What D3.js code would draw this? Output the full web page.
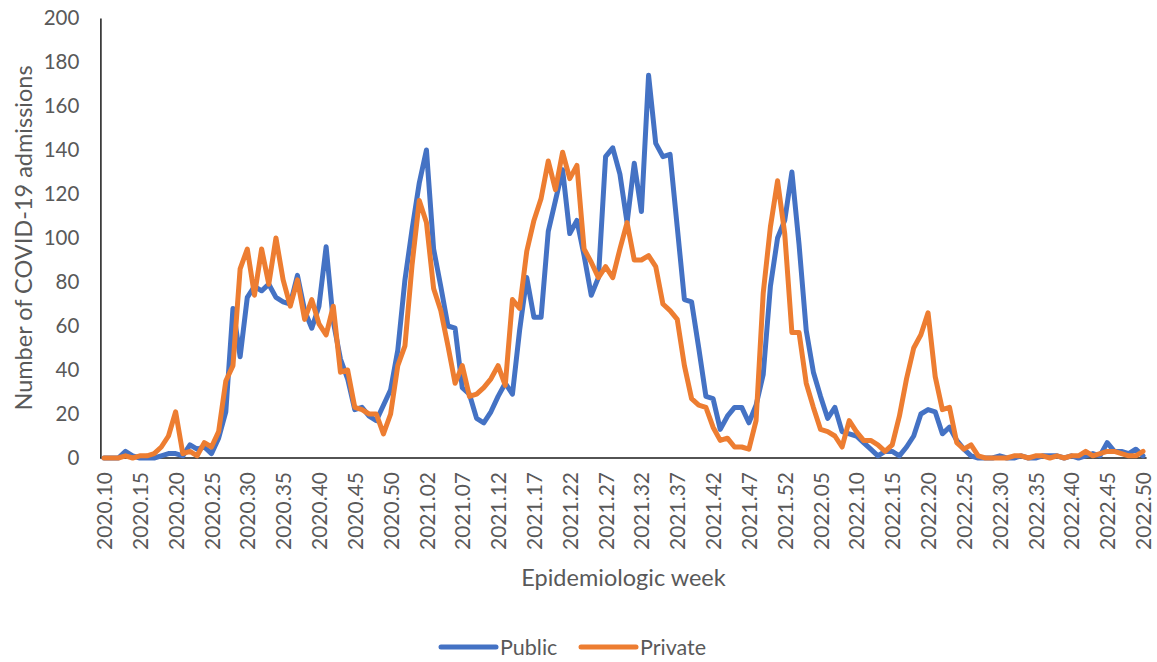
<!DOCTYPE html>
<html>
<head>
<meta charset="utf-8">
<script src="https://cdn.jsdelivr.net/npm/d3@7"></script>
<style>
  html, body { margin: 0; padding: 0; background: #ffffff; }
  svg { display: block; }
  text { font-family: Lato, "Open Sans", sans-serif; fill: #595959; }
</style>
</head>
<body>
<svg id="chart" width="1157" height="662"></svg>
<script>
// Epidemiologic weeks: 2020.10-2020.53, 2021.01-2021.52, 2022.01-2022.50
const weekRanges = [
  { year: 2020, first: 10, last: 53 },
  { year: 2021, first: 1, last: 52 },
  { year: 2022, first: 1, last: 50 }
];
const categories = [];
weekRanges.forEach(r => {
  for (let w = r.first; w <= r.last; w++) {
    categories.push(r.year + "." + String(w).padStart(2, "0"));
  }
});

// Weekly COVID-19 admissions, public hospitals
const publicAdmissions = [
  0, 0, 0, 3, 1, 0, 0, 0, 1, 2,
  2, 1, 6, 4, 5, 2, 9, 21, 68, 46,
  73, 78, 76, 79, 73, 71, 70, 83, 67, 59,
  69, 96, 62, 45, 36, 22, 23, 19, 17, 24,
  31, 49, 81, 104, 125, 140, 95, 78, 60, 59,
  32, 29, 18, 16, 21, 28, 34, 29, 58, 82,
  64, 64, 103, 117, 131, 102, 108, 92, 74, 82,
  137, 141, 129, 107, 134, 112, 174, 143, 137, 138,
  105, 72, 71, 50, 28, 27, 13, 19, 23, 23,
  16, 24, 38, 78, 100, 108, 130, 97, 58, 39,
  28, 18, 23, 12, 11, 10, 7, 4, 1, 3,
  3, 1, 5, 10, 20, 22, 21, 11, 14, 8,
  4, 1, 0, 0, 0, 1, 0, 0, 1, 0,
  0, 1, 1, 1, 0, 1, 0, 1, 2, 1,
  7, 3, 3, 2, 4, 1
];

// Weekly COVID-19 admissions, private hospitals
const privateAdmissions = [
  0, 0, 0, 1, 0, 1, 1, 2, 5, 10,
  21, 2, 3, 1, 7, 5, 12, 35, 42, 86,
  95, 74, 95, 79, 100, 81, 69, 81, 63, 72,
  61, 56, 69, 39, 40, 23, 22, 20, 20, 11,
  20, 42, 51, 88, 117, 107, 77, 67, 51, 34,
  42, 28, 29, 32, 36, 42, 33, 72, 68, 94,
  108, 118, 135, 122, 139, 127, 133, 95, 89, 82,
  87, 82, 95, 107, 90, 90, 92, 87, 70, 67,
  63, 42, 27, 24, 23, 14, 8, 9, 5, 5,
  4, 17, 75, 105, 126, 102, 57, 57, 34, 23,
  13, 12, 10, 5, 17, 12, 8, 8, 6, 3,
  6, 19, 36, 50, 56, 66, 37, 22, 23, 7,
  4, 6, 1, 0, 0, 0, 0, 1, 1, 0,
  1, 1, 0, 1, 0, 1, 1, 3, 1, 2,
  3, 3, 2, 1, 1, 3
];

const xTickLabels = [
  "2020.10", "2020.15", "2020.20", "2020.25", "2020.30", "2020.35", "2020.40", "2020.45", "2020.50",
  "2021.02", "2021.07", "2021.12", "2021.17", "2021.22", "2021.27", "2021.32", "2021.37", "2021.42", "2021.47", "2021.52",
  "2022.05", "2022.10", "2022.15", "2022.20", "2022.25", "2022.30", "2022.35", "2022.40", "2022.45", "2022.50"
];
const yTicks = [0, 20, 40, 60, 80, 100, 120, 140, 160, 180, 200];

const series = [
  { name: "Public", values: publicAdmissions, color: "#4472C4" },
  { name: "Private", values: privateAdmissions, color: "#ED7D31" }
];

const svg = d3.select("#chart");
const plot = { left: 100.4, right: 1146.6, top: 18, bottom: 458 };

const x = d3.scalePoint()
  .domain(categories)
  .range([plot.left, plot.right])
  .padding(0.5);

const y = d3.scaleLinear()
  .domain([0, 200])
  .range([plot.bottom, plot.top]);

// Value axis
const yAxis = svg.append("g")
  .attr("transform", `translate(${plot.left},0)`)
  .call(d3.axisLeft(y).tickValues(yTicks).tickSize(0).tickPadding(21));
yAxis.select(".domain").attr("stroke", "#1a1a1a").attr("stroke-width", 1.5);
yAxis.selectAll("text")
  .style("font-size", "20.5px")
  .attr("fill", "#595959");

// Category axis
const xAxis = svg.append("g")
  .attr("transform", `translate(0,${plot.bottom})`)
  .call(d3.axisBottom(x).tickValues(xTickLabels).tickSize(0).tickSizeOuter(0));
xAxis.select(".domain")
  .attr("stroke", "#1a1a1a").attr("stroke-width", 1.5)
  .attr("d", `M${plot.left},0H${plot.right}`);
xAxis.selectAll("text")
  .style("font-size", "21px")
  .attr("fill", "#595959")
  .attr("text-anchor", "end")
  .attr("transform", "rotate(-90)")
  .attr("x", -14)
  .attr("y", 0)
  .attr("dy", "0.36em");

// Series lines
const line = d3.line()
  .x((d, i) => x(categories[i]))
  .y(d => y(d));

svg.append("g").selectAll("path")
  .data(series)
  .join("path")
  .attr("d", s => line(s.values))
  .attr("fill", "none")
  .attr("stroke", s => s.color)
  .attr("stroke-width", 5)
  .attr("stroke-linejoin", "round")
  .attr("stroke-linecap", "round");

// Axis titles
svg.append("text")
  .attr("transform", `translate(32,${(plot.top + plot.bottom) / 2}) rotate(-90)`)
  .attr("text-anchor", "middle")
  .style("font-size", "23.5px")
  .text("Number of COVID-19 admissions");

svg.append("text")
  .attr("x", (plot.left + plot.right) / 2)
  .attr("y", 586)
  .attr("text-anchor", "middle")
  .style("font-size", "23.5px")
  .text("Epidemiologic week");

// Legend
const legend = svg.append("g").attr("transform", "translate(0,647)");
const legendItems = [
  { s: series[0], x0: 441, x1: 496, tx: 500 },
  { s: series[1], x0: 581, x1: 636, tx: 640 }
];
legendItems.forEach(d => {
  legend.append("line")
    .attr("x1", d.x0).attr("x2", d.x1)
    .attr("y1", 0).attr("y2", 0)
    .attr("stroke", d.s.color)
    .attr("stroke-width", 5)
    .attr("stroke-linecap", "round");
  legend.append("text")
    .attr("x", d.tx)
    .attr("y", 0)
    .attr("dy", "0.36em")
    .style("font-size", "21.5px")
    .text(d.s.name);
});
</script>
</body>
</html>
